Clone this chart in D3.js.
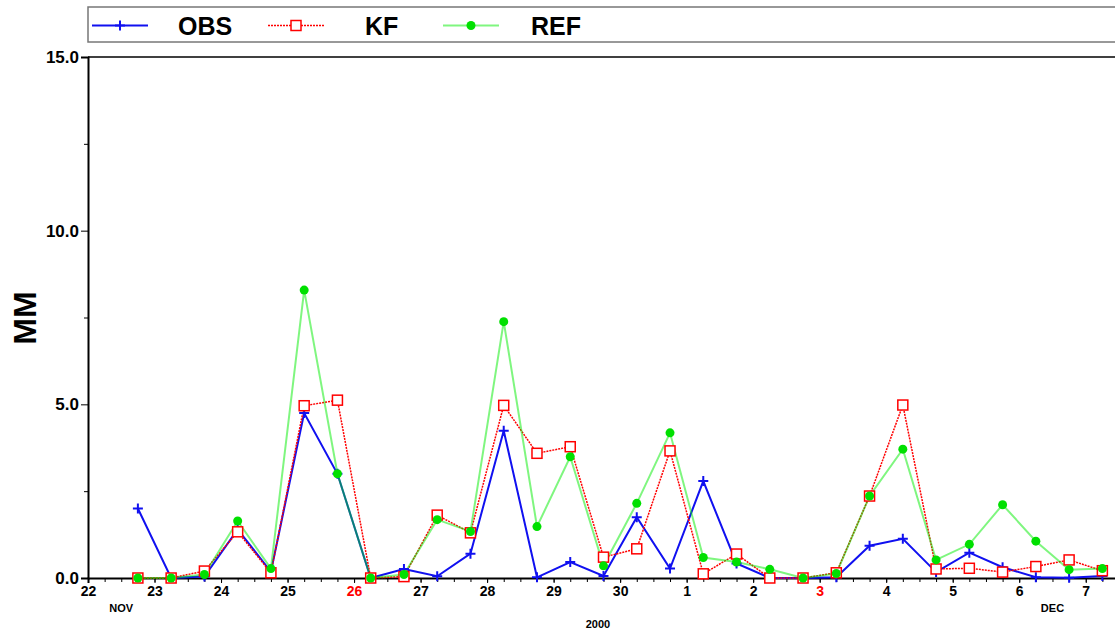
<!DOCTYPE html>
<html lang="en">
<head>
    <meta charset="utf-8">
    <script src="https://d3js.org/d3.v7.min.js"></script>
    <style>
        body { margin: 0; background: #fff; }
        text { font-family: "Liberation Sans", Arial, sans-serif; font-weight: bold; }
    </style>
</head>
<body>
    <script>
        // SVG size
        let w = 1115;
        let h = 633;

        // Times (UTC), every 12 hours
        let times = [
            "2000-11-22T18", "2000-11-23T06", "2000-11-23T18", "2000-11-24T06", "2000-11-24T18",
            "2000-11-25T06", "2000-11-25T18", "2000-11-26T06", "2000-11-26T18", "2000-11-27T06",
            "2000-11-27T18", "2000-11-28T06", "2000-11-28T18", "2000-11-29T06", "2000-11-29T18",
            "2000-11-30T06", "2000-11-30T18", "2000-12-01T06", "2000-12-01T18", "2000-12-02T06",
            "2000-12-02T18", "2000-12-03T06", "2000-12-03T18", "2000-12-04T06", "2000-12-04T18",
            "2000-12-05T06", "2000-12-05T18", "2000-12-06T06", "2000-12-06T18", "2000-12-07T06"
        ];

        // Series values (MM)
        let obs = [2.0, 0.0, 0.04, 1.4, 0.18, 4.75, 3.0, 0.0, 0.26, 0.05,
                   0.7, 4.24, 0.02, 0.46, 0.06, 1.75, 0.27, 2.79, 0.42, 0.0,
                   0.0, 0.02, 0.93, 1.13, 0.17, 0.73, 0.31, 0.02, 0.01, 0.06];
        let kf  = [0.0, 0.0, 0.2, 1.33, 0.15, 4.96, 5.12, 0.0, 0.04, 1.81,
                   1.3, 4.97, 3.59, 3.78, 0.6, 0.84, 3.66, 0.12, 0.69, 0.0,
                   0.0, 0.15, 2.36, 4.98, 0.26, 0.28, 0.17, 0.33, 0.52, 0.21];
        let ref = [0.0, 0.0, 0.1, 1.64, 0.27, 8.29, 3.0, 0.0, 0.1, 1.68,
                   1.34, 7.38, 1.48, 3.49, 0.35, 2.15, 4.18, 0.59, 0.46, 0.25,
                   0.0, 0.13, 2.36, 3.71, 0.52, 0.97, 2.11, 1.06, 0.24, 0.27];

        // Axis settings
        let yMajor = [0, 5, 10, 15];
        let yMinor = [2.5, 7.5, 12.5];
        let redDays = [26, 3];
        let seriesNames = ["OBS", "KF", "REF"];

        let parse = d3.utcParse("%Y-%m-%dT%H");
        let dates = times.map(parse);

        let svg = d3.select("body").append("svg")
            .attr("width", w)
            .attr("height", h);

        let x = d3.scaleUtc()
            .domain([Date.UTC(2000, 10, 22), Date.UTC(2000, 11, 7, 12)])
            .range([88, 1119]);

        let y = d3.scaleLinear()
            .domain([0, 15])
            .range([578, 57]);

        // Top frame line
        svg.append("line")
            .attr("x1", 88).attr("x2", w)
            .attr("y1", y(15)).attr("y2", y(15))
            .attr("stroke", "#000").attr("stroke-width", 1.5);

        // Y axis
        let yAxis = svg.append("g")
            .attr("transform", "translate(88,0)")
            .call(d3.axisLeft(y).tickValues(yMajor).tickFormat(d3.format(".1f")).tickSize(7).tickPadding(2));
        yAxis.select(".domain").attr("stroke-width", 2);
        yAxis.selectAll("text").attr("font-size", 17).attr("fill", "#000");
        svg.append("g")
            .attr("transform", "translate(88,0)")
            .call(d3.axisLeft(y).tickValues(yMinor).tickFormat("").tickSize(4))
            .select(".domain").remove();

        // X axis
        let xAxis = svg.append("g")
            .attr("transform", "translate(0,578)")
            .call(d3.axisBottom(x).ticks(d3.utcDay.every(1)).tickFormat(d3.utcFormat("%-d")).tickSize(5).tickPadding(3));
        xAxis.select(".domain").attr("stroke-width", 2);
        xAxis.selectAll("text")
            .attr("font-size", 14)
            .attr("fill", d => redDays.includes(d.getUTCDate()) ? "#ff0000" : "#000");
        svg.append("g")
            .attr("transform", "translate(0,578)")
            .call(d3.axisBottom(x).ticks(d3.utcHour.every(6)).tickFormat("").tickSize(4))
            .select(".domain").remove();

        svg.append("text").text("NOV")
            .attr("x", x(Date.UTC(2000, 10, 22, 12))).attr("y", 612)
            .attr("text-anchor", "middle").attr("font-size", 11);
        svg.append("text").text("DEC")
            .attr("x", x(Date.UTC(2000, 11, 6, 12))).attr("y", 612)
            .attr("text-anchor", "middle").attr("font-size", 11);
        svg.append("text").text("2000")
            .attr("x", x(Date.UTC(2000, 10, 29, 16))).attr("y", 628)
            .attr("text-anchor", "middle").attr("font-size", 11);

        // Y label
        svg.append("text").text("MM")
            .attr("transform", "translate(36,318) rotate(-90)")
            .attr("text-anchor", "middle").attr("font-size", 32);

        // Lines
        let line = vals => d3.line()
            .x((d, i) => x(dates[i]))
            .y(d => y(d))(vals);

        svg.append("path").attr("d", line(obs))
            .attr("fill", "none").attr("stroke", "#1010f0").attr("stroke-width", 2);
        svg.append("path").attr("d", line(kf))
            .attr("fill", "none").attr("stroke", "#ff0000").attr("stroke-width", 1.5)
            .attr("stroke-dasharray", "2,1");
        svg.append("path").attr("d", line(ref))
            .attr("fill", "none").attr("stroke", "#00ee00").attr("stroke-opacity", 0.5).attr("stroke-width", 2);

        // Markers
        let plus = (g, cx, cy) => g.append("path")
            .attr("d", `M${cx - 5},${cy}H${cx + 5}M${cx},${cy - 5}V${cy + 5}`)
            .attr("stroke", "#1010f0").attr("stroke-width", 2);
        let square = (g, cx, cy) => g.append("rect")
            .attr("x", cx - 5).attr("y", cy - 5).attr("width", 10).attr("height", 10)
            .attr("fill", "#fff").attr("stroke", "#ff0000").attr("stroke-width", 1.5);
        let dot = (g, cx, cy) => g.append("circle")
            .attr("cx", cx).attr("cy", cy).attr("r", 4.5)
            .attr("fill", "#00e000");

        let gm = svg.append("g");
        obs.forEach((d, i) => plus(gm, x(dates[i]), y(d)));
        kf.forEach((d, i) => square(gm, x(dates[i]), y(d)));
        ref.forEach((d, i) => dot(gm, x(dates[i]), y(d)));

        // Legend
        let lg = svg.append("g");
        lg.append("rect")
            .attr("x", 88).attr("y", 7).attr("width", 1100).attr("height", 35)
            .attr("fill", "none").attr("stroke", "#777").attr("stroke-width", 1.5);
        let legendX = [92, 268, 443];
        let legendLine = [
            {stroke: "#1010f0", width: 2, dash: null, op: 1, mark: plus},
            {stroke: "#ff0000", width: 1.5, dash: "2,1", op: 1, mark: square},
            {stroke: "#00ee00", width: 2, dash: null, op: 0.5, mark: dot}
        ];
        let legendText = [178, 365, 531];
        seriesNames.forEach((name, i) => {
            let s = legendLine[i];
            lg.append("line")
                .attr("x1", legendX[i]).attr("x2", legendX[i] + 56)
                .attr("y1", 25.5).attr("y2", 25.5)
                .attr("stroke", s.stroke).attr("stroke-width", s.width)
                .attr("stroke-opacity", s.op)
                .attr("stroke-dasharray", s.dash);
            s.mark(lg, legendX[i] + 28, 25.5);
            lg.append("text").text(name)
                .attr("x", legendText[i]).attr("y", 35)
                .attr("font-size", 25);
        });
    </script>
</body>
</html>
